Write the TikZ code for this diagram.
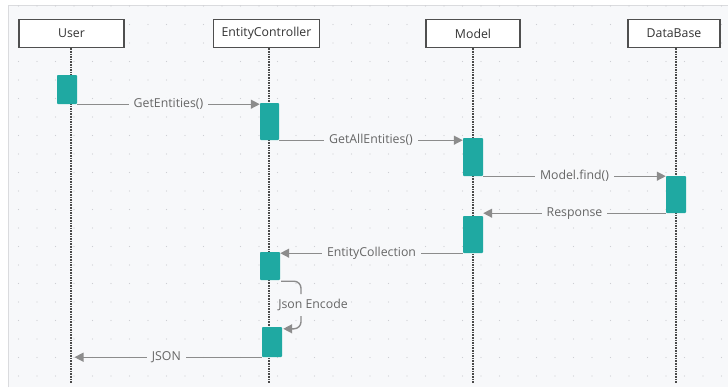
\documentclass[tikz,border=0pt]{standalone}
\usepackage{fontspec}
\setmainfont{Open Sans}
\usetikzlibrary{arrows.meta}
\definecolor{panel}{HTML}{F7F8FA}
\definecolor{paneledge}{HTML}{DADBDE}
\definecolor{griddot}{HTML}{CDCED3}
\definecolor{boxedge}{HTML}{4F4F4F}
\definecolor{lifecol}{HTML}{4A4A4A}
\definecolor{msgcol}{HTML}{8C8C8C}
\definecolor{msgtext}{HTML}{666666}
\definecolor{titletext}{HTML}{333333}
\definecolor{teal}{HTML}{1FA9A2}
\begin{document}
\begin{tikzpicture}[x=1pt,y=-1pt,
  actor/.style={draw=boxedge, line width=1.6pt, fill=white, minimum width=#1, minimum height=28pt,
    inner sep=0pt, font=\fontsize{12.3}{14}\selectfont, text=titletext},
  act/.style={fill=teal, rounded corners=0.8pt, minimum width=20pt, inner sep=0pt},
  life/.style={draw=lifecol, line width=1.4pt, dash pattern=on 1.6pt off 1pt},
  msg/.style={draw=msgcol, line width=1.4pt, -{Triangle[length=9pt,width=9pt]}},
  loopline/.style={draw=msgcol, line width=1.4pt, rounded corners=7pt},
  lbl/.style={fill=panel, inner xsep=5pt, inner ysep=1pt, text=msgtext, font=\fontsize{12.3}{14}\selectfont}
]
\useasboundingbox (0,0) rectangle (728,389);
% canvas
\fill[white] (0,0) rectangle (728,389);
\fill[panel] (8,5) rectangle (728,387);
\draw[paneledge, line width=0.6pt] (8,387) -- (8,5) -- (728,5);
\foreach \i in {1,...,39}
  \foreach \j in {0,...,20}
    \fill[griddot] (\i*18.5, 6+\j*18.5) circle (0.7pt);

% participants
\node[actor=105pt] (user)  at (71.5,33.5) {User};
\node[actor=106pt] (ec)    at (266.5,33.5) {EntityController};
\node[actor=94pt]  (model) at (473,33.5) {Model};
\node[actor=92pt]  (db)    at (674,33.5) {DataBase};

% lifeline ends
\coordinate (uend) at (71,383);
\coordinate (ecend) at (269,383);
\coordinate (mend) at (473,383);
\coordinate (dbend) at (676,383);

\draw[life] (user.south -| uend) -- (uend);
\draw[life] (ec.south -| ecend) -- (ecend);
\draw[life] (model.south -| mend) -- (mend);
\draw[life] (db.south -| dbend) -- (dbend);

% activations
\node[act, minimum height=29pt] (a1) at (67,89.5) {};
\node[act, minimum height=37pt, minimum width=19pt] (a2) at (269.5,121.5) {};
\node[act, minimum height=38pt] (a3) at (473,157) {};
\node[act, minimum height=37pt] (a4) at (676,194.5) {};
\node[act, minimum height=37pt] (a5) at (473,234.5) {};
\node[act, minimum height=28pt] (a6) at (270,266) {};
\node[act, minimum height=30pt] (a7) at (272,342) {};

% messages
\draw[msg] (a1.south east) -- node[lbl] {GetEntities()} (a1.south east -| a2.west);
\draw[msg] (a2.south east) -- node[lbl] {GetAllEntities()} (a2.south east -| a3.west);
\draw[msg] (a3.south east) -- node[lbl] {Model.find()} (a3.south east -| a4.west);
\draw[msg] (a4.south west) -- node[lbl] {Response} (a4.south west -| a5.east);
\draw[msg] (a5.south west) -- node[lbl] {EntityCollection} (a5.south west -| a6.east);
\draw[msg, shorten >=3.5pt] (a7.south west) -- node[lbl] {JSON} (a7.south west -| uend);

% self call
\node[text=msgtext, font=\fontsize{12.3}{14}\selectfont, inner sep=1pt] (je) at (313,305) {Json Encode};
\coordinate (jetop) at (301,294);
\coordinate (jebot) at (301,316);
\draw[loopline] ([xshift=1pt,yshift=-1pt]a6.south east) -| (jetop);
\draw[loopline, -{Triangle[length=9pt,width=9pt]}] (jebot) |- ([xshift=1pt,yshift=-2pt]a7.north east);
\end{tikzpicture}
\end{document}
